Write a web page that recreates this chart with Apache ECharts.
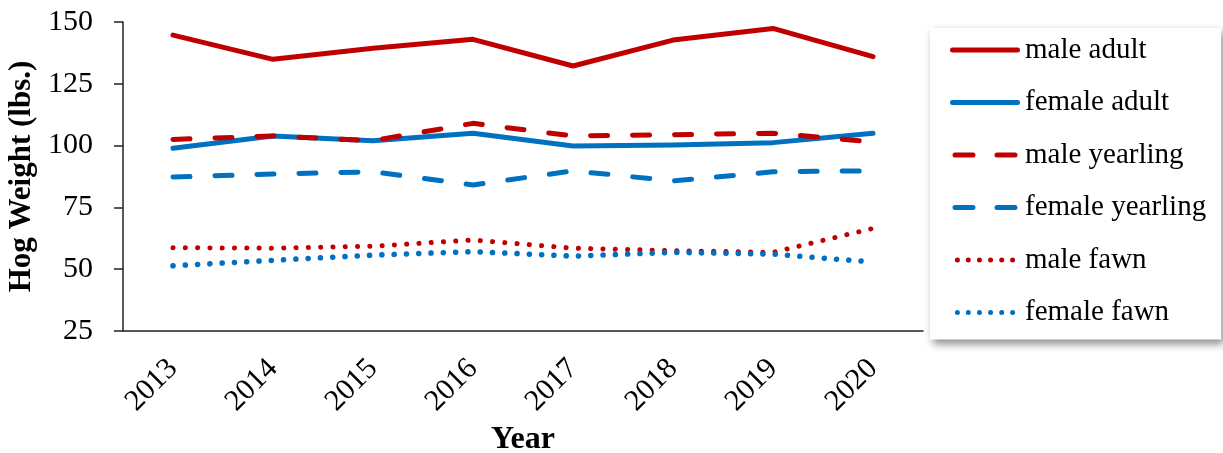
<!DOCTYPE html>
<html>
<head>
<meta charset="utf-8">
<script src="https://cdn.jsdelivr.net/npm/echarts@6/dist/echarts.min.js"></script>
<style>html,body{margin:0;padding:0;background:#fff;}#chart{width:1223px;height:453px;}</style>
</head>
<body>
<div id="chart"></div>
<script>
var years = ['2013','2014','2015','2016','2017','2018','2019','2020'];
var maleAdult = [144.7, 134.9, 139.4, 143.0, 132.2, 142.7, 147.4, 136.0];
var femaleAdult = [98.9, 103.9, 102.0, 105.0, 99.8, 100.2, 101.2, 105.0];
var maleYearling = [102.5, 103.9, 102.0, 109.0, 103.9, 104.4, 105.0, 101.5];
var femaleYearling = [87.3, 88.5, 89.4, 84.1, 89.8, 85.7, 89.4, 89.8];
var maleFawn = [58.7, 58.5, 59.3, 61.8, 58.5, 57.5, 56.8, 66.5];
var femaleFawn = [51.4, 53.6, 55.7, 57.1, 55.3, 56.8, 56.1, 52.9];
var seriesNames = ['male adult','female adult','male yearling','female yearling','male fawn','female fawn'];

var RED = '#C00000', BLUE = '#0070C0';
var FONT = "'Liberation Serif', 'Times New Roman', serif";

function capsule(x0, x1, r) {
  return 'M' + (x0 + r) + ',0 L' + (x1 - r) + ',0 A' + r + ',' + r + ' 0 0 1 ' + (x1 - r) + ',' + (2 * r) +
         ' L' + (x0 + r) + ',' + (2 * r) + ' A' + r + ',' + r + ' 0 0 1 ' + (x0 + r) + ',0 Z ';
}
function dot(cx, r) {
  return 'M' + (cx - r) + ',' + r + ' A' + r + ',' + r + ' 0 1 0 ' + (cx + r) + ',' + r +
         ' A' + r + ',' + r + ' 0 1 0 ' + (cx - r) + ',' + r + ' Z ';
}
var ICON_SOLID = 'path://' + capsule(0, 70, 2.5);
var ICON_DASH = 'path://' + capsule(0, 23, 2.5) + capsule(42, 65, 2.5);
var ICON_DOT = 'path://' + [2.75, 14.75, 27, 39.25, 51.5, 63.5].map(function (c) { return dot(c, 2.75); }).join('');
var icons = [ICON_SOLID, ICON_SOLID, ICON_DASH, ICON_DASH, ICON_DOT, ICON_DOT];

function mk(name, data, color, type, width) {
  return {
    name: name, type: 'line', data: data, symbol: 'none', smooth: false,
    lineStyle: { color: color, width: width, type: type, cap: 'round', join: 'round' },
    itemStyle: { color: color },
    emphasis: { disabled: true }
  };
}

var chart = echarts.init(document.getElementById('chart'), null, { renderer: 'canvas' });
chart.setOption({
  animation: false,
  backgroundColor: '#fff',
  grid: { left: 123, right: 300, top: 22, bottom: 122, containLabel: false, outerBoundsMode: 'none' },
  xAxis: {
    type: 'category', data: years, boundaryGap: true,
    name: 'Year', nameLocation: 'middle', nameGap: 92,
    nameTextStyle: { fontFamily: FONT, fontWeight: 'bold', fontSize: 32, color: '#000' },
    axisLine: { lineStyle: { color: '#222', width: 1.5 } },
    axisTick: { alignWithLabel: true, length: 7, lineStyle: { color: '#222', width: 1.5 } },
    axisLabel: { rotate: 45, margin: 33, fontFamily: FONT, fontSize: 30, color: '#000' }
  },
  yAxis: {
    type: 'value', min: 25, max: 150, interval: 25,
    name: 'Hog Weight (lbs.)', nameLocation: 'middle', nameGap: 85, nameRotate: 90,
    nameTextStyle: { fontFamily: FONT, fontWeight: 'bold', fontSize: 31, color: '#000' },
    axisLine: { show: true, lineStyle: { color: '#222', width: 1.5 } },
    axisTick: { show: true, length: 9, lineStyle: { color: '#222', width: 1.5 } },
    axisLabel: { margin: 30, fontFamily: FONT, fontSize: 30, color: '#000' },
    splitLine: { show: false }
  },
  legend: {
    orient: 'vertical', left: 930, top: 28,
    padding: [7.5, 15, 12.5, 20],
    itemWidth: 70, itemHeight: 5, itemGap: 23.5,
    backgroundColor: '#fff',
    shadowColor: 'rgba(0,0,0,0.45)', shadowBlur: 8, shadowOffsetX: 3, shadowOffsetY: 4,
    textStyle: { fontFamily: FONT, fontSize: 29, color: '#000', lineHeight: 29 },
    data: seriesNames.map(function (n, i) { return { name: n, icon: icons[i] }; })
  },
  series: [
    mk(seriesNames[0], maleAdult, RED, 'solid', 5),
    mk(seriesNames[1], femaleAdult, BLUE, 'solid', 5),
    mk(seriesNames[2], maleYearling, RED, [17, 25], 5),
    mk(seriesNames[3], femaleYearling, BLUE, [17, 25], 5),
    mk(seriesNames[4], maleFawn, RED, [0.1, 12.2], 5),
    mk(seriesNames[5], femaleFawn, BLUE, [0.1, 12.2], 5.5)
  ]
});
</script>
</body>
</html>
